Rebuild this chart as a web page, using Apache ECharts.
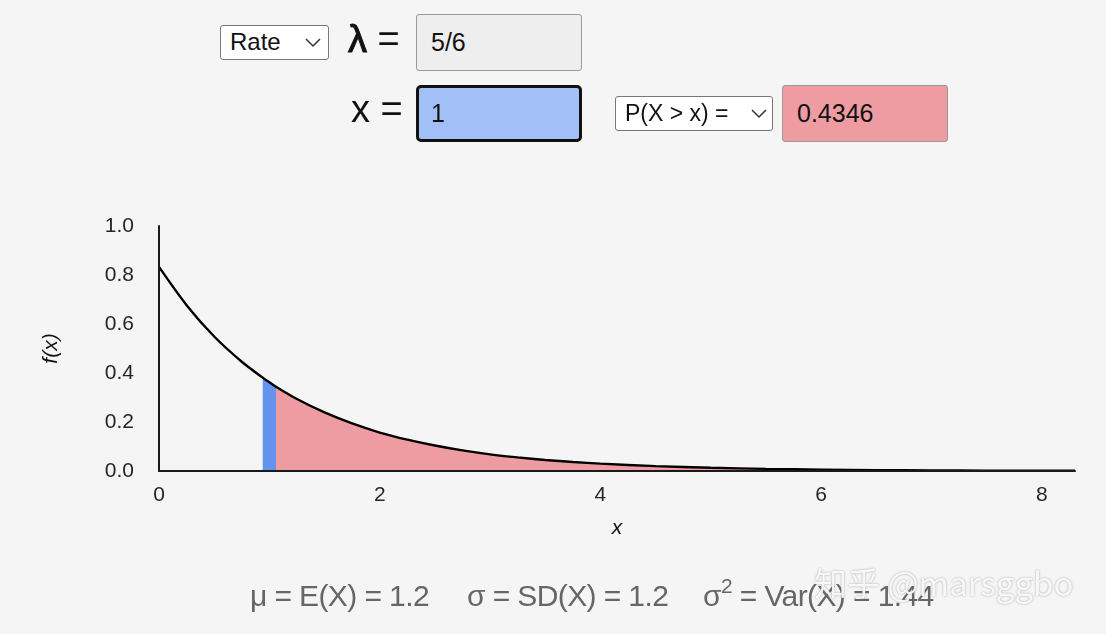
<!DOCTYPE html>
<html>
<head>
<meta charset="utf-8">
<script src="https://cdn.jsdelivr.net/npm/echarts@6/dist/echarts.min.js"></script>
<style>
  html, body { margin:0; padding:0; background:#f5f5f5; }
  body { width:1106px; height:634px; position:relative; overflow:hidden; font-family:"Liberation Sans", Arial, sans-serif; color:#111; }
  #chart { position:absolute; left:0; top:0; width:1106px; height:634px; }
  .sel { position:absolute; background:#fff; border:1px solid #777; border-radius:3px; box-sizing:border-box; font-size:24px; line-height:32px; padding-left:9px; color:#111; }
  .sel svg { position:absolute; top:12px; }
  .box { position:absolute; box-sizing:border-box; border-radius:3px; font-size:25px; padding-left:14px; color:#111; }
  .lbl { position:absolute; font-size:38px; color:#111; white-space:nowrap; }
  .stat { position:absolute; top:581px; font-size:30px; line-height:30px; color:#666; white-space:nowrap; letter-spacing:-0.6px; }
  .wm { position:absolute; left:814px; top:558px; font-size:33px; color:rgba(255,255,255,0.9); text-shadow:0 0 2px rgba(120,120,120,0.7); white-space:nowrap; font-family:"Noto Sans CJK SC","Liberation Sans",sans-serif; }
</style>
</head>
<body>
<div id="chart"></div>

<div class="sel" style="left:220px;top:25px;width:109px;height:35px;">Rate
  <svg style="left:84px" width="16" height="10" viewBox="0 0 16 10"><polyline points="1,1 8,8 15,1" fill="none" stroke="#333" stroke-width="1.5"/></svg>
</div>
<div class="lbl" style="left:348px;top:18px;"><span style="-webkit-text-stroke:1px #111">λ</span> =</div>
<div class="box" style="left:416px;top:14px;width:166px;height:57px;background:#eeeeee;border:1.5px solid #999;line-height:54px;">5/6</div>

<div class="lbl" style="left:351px;top:88px;">x =</div>
<div class="box" style="left:416px;top:85px;width:166px;height:57px;background:#a2c0f7;border:3px solid #111;border-radius:5px;line-height:51px;padding-left:12px;">1</div>

<div class="sel" style="left:615px;top:96px;width:158px;height:35px;padding-left:9px;font-size:23px;">P(X &gt; x) =
  <svg style="left:135px" width="16" height="10" viewBox="0 0 16 10"><polyline points="1,1 8,8 15,1" fill="none" stroke="#333" stroke-width="1.5"/></svg>
</div>
<div class="box" style="left:782px;top:85px;width:166px;height:57px;background:#ee9ca1;border:1.5px solid #999;line-height:54px;">0.4346</div>

<div class="stat" style="left:250px;">μ = E(X) = 1.2</div>
<div class="stat" style="left:467px;">σ = SD(X) = 1.2</div>
<div class="stat" style="left:703px;">σ<sup style="font-size:21px;vertical-align:13px;line-height:0">2</sup> = Var(X) = 1.44</div>
<div class="wm">知乎 @marsggbo</div>

<script>
// Values
const xs = [0, 0.25, 0.5, 0.75, 0.94, 1.0, 1.06, 1.25, 1.5, 1.75, 2.0, 2.25, 2.5, 2.75, 3.0, 3.25, 3.5, 3.75, 4.0, 4.5, 5.0, 5.5, 6.0, 6.5, 7.0, 7.5, 8.0, 8.3];
const fx = [0.833, 0.677, 0.549, 0.446, 0.381, 0.362, 0.344, 0.294, 0.239, 0.194, 0.157, 0.128, 0.104, 0.084, 0.068, 0.0555, 0.045, 0.0366, 0.030, 0.020, 0.013, 0.0085, 0.0056, 0.0037, 0.0024, 0.0016, 0.0011, 0.0008];
const markLo = 0.94;       // blue strip left edge
const markHi = 1.06;       // blue strip right edge / start of tail area
const xTickLabels = ["0", "2", "4", "6", "8"];
const yTickLabels = ["0.0", "0.2", "0.4", "0.6", "0.8", "1.0"];

const curve = xs.map((x, i) => [x, fx[i]]);
const blue = curve.filter(p => p[0] >= markLo && p[0] <= markHi);
const tail = curve.filter(p => p[0] >= markHi);

const chart = echarts.init(document.getElementById('chart'), null, { renderer: 'canvas' });
const labelFont = { fontFamily: 'Liberation Sans', fontSize: 21, color: '#262626' };
chart.setOption({
  backgroundColor: 'transparent',
  animation: false,
  grid: { left: 159, right: 31, top: 226, bottom: 163 },
  xAxis: {
    type: 'value', min: 0, max: 8.3, interval: 2, z: 10,
    axisLine: { show: true, lineStyle: { color: '#1a1a1a', width: 2 } },
    axisTick: { show: false },
    splitLine: { show: false },
    axisLabel: Object.assign({ margin: 14, showMaxLabel: false,
      formatter: v => xTickLabels[Math.round(v / 2)] ?? '' }, labelFont),
    name: 'x', nameLocation: 'middle', nameGap: 47,
    nameTextStyle: { fontFamily: 'Liberation Sans', fontSize: 21, fontStyle: 'italic', color: '#111' }
  },
  yAxis: {
    type: 'value', min: 0, max: 1, interval: 0.2, z: 10,
    axisLine: { show: true, lineStyle: { color: '#1a1a1a', width: 2 } },
    axisTick: { show: false },
    splitLine: { show: false },
    axisLabel: Object.assign({ margin: 25,
      formatter: v => yTickLabels[Math.round(v * 5)] ?? '' }, labelFont),
    name: 'f(x)', nameLocation: 'middle', nameGap: 97, nameRotate: 90,
    nameTextStyle: { fontFamily: 'Liberation Sans', fontSize: 21, fontStyle: 'italic', color: '#111' }
  },
  series: [
    { type: 'line', data: tail, smooth: 0.3, showSymbol: false, silent: true,
      lineStyle: { width: 0 }, areaStyle: { color: '#ee9ca1', opacity: 1 }, z: 2 },
    { type: 'line', data: blue, smooth: false, showSymbol: false, silent: true,
      lineStyle: { width: 0 }, areaStyle: { color: '#6493ee', opacity: 1 }, z: 3 },
    { type: 'line', data: curve, smooth: 0.3, showSymbol: false, silent: true,
      lineStyle: { color: '#000', width: 2.4 }, z: 4 }
  ]
});
</script>
</body>
</html>
